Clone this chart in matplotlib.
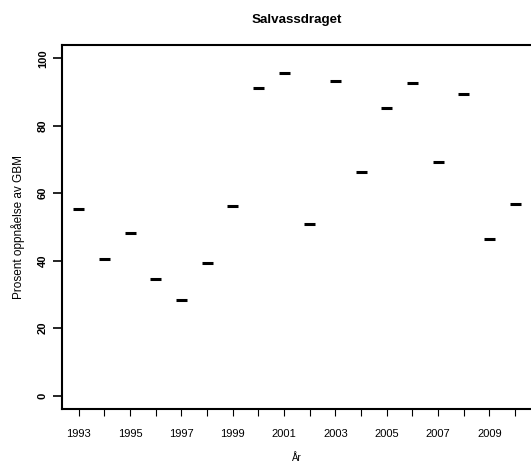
import matplotlib
matplotlib.use("Agg")
import matplotlib.pyplot as plt
import numpy as np

years = [1993, 1994, 1995, 1996, 1997, 1998, 1999, 2000, 2001, 2002,
         2003, 2004, 2005, 2006, 2007, 2008, 2009, 2010]
values = [55.3, 40.4, 48.3, 34.5, 28.4, 39.4, 56.2, 91.1, 95.8, 51.0,
          93.2, 66.3, 85.4, 92.6, 69.4, 89.4, 46.5, 56.7]
yticks = [0, 20, 40, 60, 80, 100]

plt.rcParams['font.family'] = ['Liberation Sans', 'DejaVu Sans']

W, H = 531, 462
fig = plt.figure(figsize=(W / 100, H / 100), dpi=100)
left, right, top, bottom = 61.7, 532.0, 45.0, 409.0
ax = fig.add_axes([left / W, (H - bottom) / H, (right - left) / W, (bottom - top) / H])

pos = np.arange(1, len(years) + 1)
half = 0.215
ax.hlines(values, pos - half, pos + half, colors='black', linewidth=2.2)

ax.set_xlim(0.337, 18.66)
ax.set_ylim(-4, 104)

ax.spines['right'].set_visible(False)
for s in ['top', 'left', 'bottom']:
    ax.spines[s].set_linewidth(1.5)

ax.set_xticks(pos)
ax.set_xticklabels([str(y) if i % 2 == 0 else '' for i, y in enumerate(years)], fontsize=8)
ax.set_yticks(yticks)
ax.set_yticklabels([str(v) for v in yticks], fontsize=8, fontweight='bold', rotation=90, va='center')
ax.tick_params(axis='x', length=5, width=0.8, pad=9.5)
ax.tick_params(axis='y', length=6.5, width=1.2, pad=3.5)

ax.set_xlabel('År', fontsize=7, labelpad=10)
ax.set_ylabel('Prosent oppnåelse av GBM', fontsize=8.5, labelpad=9)
fig.text(296.5 / W, 1 - 20 / H, 'Salvassdraget', ha='center', va='center', fontsize=9.6, fontweight='bold')

fig.savefig('out.png', dpi=100)
